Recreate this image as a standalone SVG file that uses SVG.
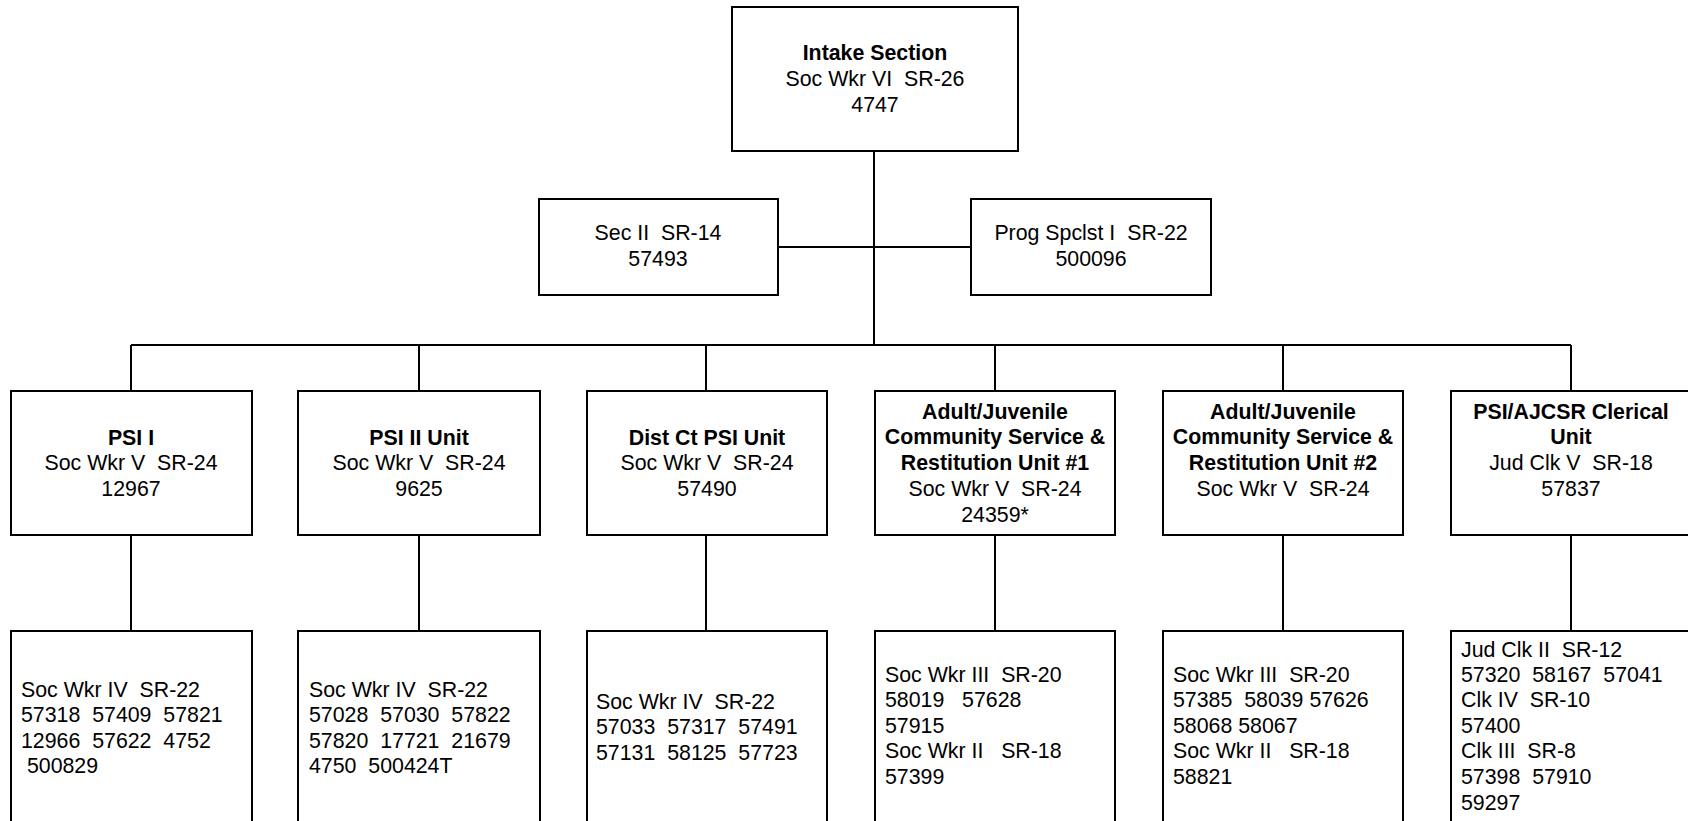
<svg xmlns="http://www.w3.org/2000/svg" width="1688" height="821" viewBox="0 0 1688 821">
<style>
text{font-family:"Liberation Sans",Arial,sans-serif;font-size:21.33px;fill:#000;white-space:pre}
.c{text-anchor:middle}
.b{font-weight:bold}
rect{fill:#fff;stroke:#000;stroke-width:2}
#connectors line{stroke:#000;stroke-width:2}
</style>
<rect x="0" y="0" width="1688" height="821" style="fill:#fff;stroke:none"/>
<g id="connectors">
<line x1="874" y1="151" x2="874" y2="345"/>
<line x1="778" y1="247" x2="971" y2="247"/>
<line x1="131" y1="345" x2="1571" y2="345"/>
<line x1="131" y1="345" x2="131" y2="391"/>
<line x1="419" y1="345" x2="419" y2="391"/>
<line x1="706" y1="345" x2="706" y2="391"/>
<line x1="995" y1="345" x2="995" y2="391"/>
<line x1="1283" y1="345" x2="1283" y2="391"/>
<line x1="1571" y1="345" x2="1571" y2="391"/>
<line x1="131" y1="535" x2="131" y2="631"/>
<line x1="419" y1="535" x2="419" y2="631"/>
<line x1="706" y1="535" x2="706" y2="631"/>
<line x1="995" y1="535" x2="995" y2="631"/>
<line x1="1283" y1="535" x2="1283" y2="631"/>
<line x1="1571" y1="535" x2="1571" y2="631"/>
</g>
<g id="intake">
<rect x="732" y="7" width="286" height="144"/>
<text class="c b" x="875" y="60">Intake Section</text>
<text class="c" x="875" y="86">Soc Wkr VI  SR-26</text>
<text class="c" x="875" y="112">4747</text>
</g>
<g id="sec2">
<rect x="539" y="199" width="239" height="96"/>
<text class="c" x="658" y="240">Sec II  SR-14</text>
<text class="c" x="658" y="266">57493</text>
</g>
<g id="prog">
<rect x="971" y="199" width="240" height="96"/>
<text class="c" x="1091" y="240">Prog Spclst I  SR-22</text>
<text class="c" x="1091" y="266">500096</text>
</g>
<g id="psi1">
<rect x="11" y="391" width="241" height="144"/>
<text class="c b" x="131" y="445">PSI I</text>
<text class="c" x="131" y="470">Soc Wkr V  SR-24</text>
<text class="c" x="131" y="496">12967</text>
</g>
<g id="psi2">
<rect x="298" y="391" width="242" height="144"/>
<text class="c b" x="419" y="445">PSI II Unit</text>
<text class="c" x="419" y="470">Soc Wkr V  SR-24</text>
<text class="c" x="419" y="496">9625</text>
</g>
<g id="distct">
<rect x="587" y="391" width="240" height="144"/>
<text class="c b" x="707" y="445">Dist Ct PSI Unit</text>
<text class="c" x="707" y="470">Soc Wkr V  SR-24</text>
<text class="c" x="707" y="496">57490</text>
</g>
<g id="adult1">
<rect x="875" y="391" width="240" height="144"/>
<text class="c b" x="995" y="419">Adult/Juvenile</text>
<text class="c b" x="995" y="444">Community Service &amp;</text>
<text class="c b" x="995" y="470">Restitution Unit #1</text>
<text class="c" x="995" y="496">Soc Wkr V  SR-24</text>
<text class="c" x="995" y="522">24359*</text>
</g>
<g id="adult2">
<rect x="1163" y="391" width="240" height="144"/>
<text class="c b" x="1283" y="419">Adult/Juvenile</text>
<text class="c b" x="1283" y="444">Community Service &amp;</text>
<text class="c b" x="1283" y="470">Restitution Unit #2</text>
<text class="c" x="1283" y="496">Soc Wkr V  SR-24</text>
</g>
<g id="clerical">
<rect x="1451" y="391" width="260" height="144"/>
<text class="c b" x="1571" y="419">PSI/AJCSR Clerical</text>
<text class="c b" x="1571" y="444">Unit</text>
<text class="c" x="1571" y="470">Jud Clk V  SR-18</text>
<text class="c" x="1571" y="496">57837</text>
</g>
<g id="psi1-staff">
<rect x="11" y="631" width="241" height="210"/>
<text x="21" y="697">Soc Wkr IV  SR-22</text>
<text x="21" y="722">57318  57409  57821</text>
<text x="21" y="748">12966  57622  4752</text>
<text x="21" y="773"> 500829</text>
</g>
<g id="psi2-staff">
<rect x="298" y="631" width="242" height="210"/>
<text x="309" y="697">Soc Wkr IV  SR-22</text>
<text x="309" y="722">57028  57030  57822</text>
<text x="309" y="748">57820  17721  21679</text>
<text x="309" y="773">4750  500424T</text>
</g>
<g id="distct-staff">
<rect x="587" y="631" width="240" height="210"/>
<text x="596" y="709">Soc Wkr IV  SR-22</text>
<text x="596" y="734">57033  57317  57491</text>
<text x="596" y="760">57131  58125  57723</text>
</g>
<g id="adult1-staff">
<rect x="875" y="631" width="240" height="210"/>
<text x="885" y="682">Soc Wkr III  SR-20</text>
<text x="885" y="707">58019   57628</text>
<text x="885" y="733">57915</text>
<text x="885" y="758">Soc Wkr II   SR-18</text>
<text x="885" y="784">57399</text>
</g>
<g id="adult2-staff">
<rect x="1163" y="631" width="240" height="210"/>
<text x="1173" y="682">Soc Wkr III  SR-20</text>
<text x="1173" y="707">57385  58039 57626</text>
<text x="1173" y="733">58068 58067</text>
<text x="1173" y="758">Soc Wkr II   SR-18</text>
<text x="1173" y="784">58821</text>
</g>
<g id="clerical-staff">
<rect x="1451" y="631" width="260" height="210"/>
<text x="1461" y="657">Jud Clk II  SR-12</text>
<text x="1461" y="682">57320  58167  57041</text>
<text x="1461" y="707">Clk IV  SR-10</text>
<text x="1461" y="733">57400</text>
<text x="1461" y="758">Clk III  SR-8</text>
<text x="1461" y="784">57398  57910</text>
<text x="1461" y="810">59297</text>
</g>
</svg>
